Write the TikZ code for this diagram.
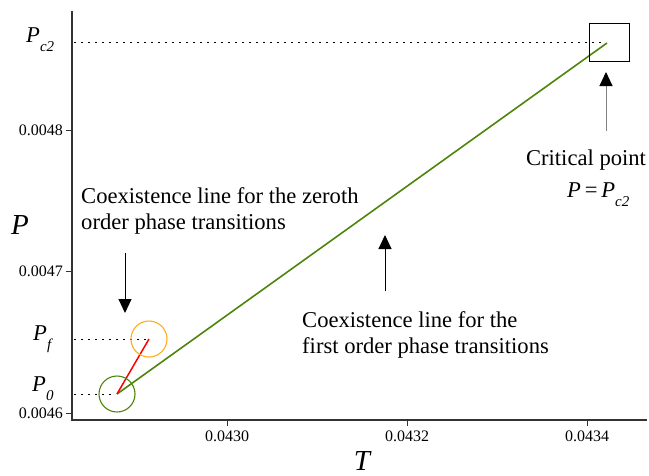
\documentclass[tikz,border=0pt]{standalone}
\usepackage{fontspec}
\setmainfont{Liberation Serif}
\usepackage{xcolor}
\usetikzlibrary{arrows.meta}
\definecolor{lineGreen}{RGB}{78,132,10}
\definecolor{ringOrange}{RGB}{255,172,30}

% italic P with a lowered italic subscript
\newcommand{\psub}[1]{\textit{P}\raisebox{-0.42em}{\fontsize{15}{15}\selectfont\textit{#1}}}

\begin{document}
\begin{tikzpicture}[x=1pt,y=-1pt,
  axis/.style={line width=1.2pt, black!80},
  tick/.style={line width=0.9pt, black!80},
  ticklabel/.style={font=\fontsize{16}{16}\selectfont, inner sep=0pt},
  guide/.style={line width=1pt, dash pattern=on 1.5pt off 5.5pt},
  note/.style={font=\fontsize{22.6}{26}\selectfont, inner sep=0pt, align=left},
  axislabel/.style={font=\fontsize{29}{29}\selectfont\itshape, inner sep=0pt},
  pointer/.style={line width=1pt, -{Triangle[width=13pt,length=14pt,color=black]}}]
\useasboundingbox (0,0) rectangle (649,475);

\coordinate (O) at (72,420);
\coordinate (P0) at (117,394);%start of the coexistence lines
\coordinate (Pf) at (149,339);
\coordinate (Pc) at (607,43);%critical point

%axes and ticks
\draw[axis] (72,11) -- (O) -- (647,420);
\foreach \y/\lab [count=\i] in {130/0.0048, 271/0.0047, 413/0.0046}{
  \draw[tick] (66,\y) -- (72,\y);
  \node[ticklabel, anchor=east] (ytick\i) at (63,\y) {\lab};
}
\foreach \x/\lab [count=\i] in {227/0.0430, 407/0.0432, 587/0.0434}{
  \draw[tick] (\x,420) -- (\x,426);
  \node[ticklabel, anchor=north] (xtick\i) at (\x,431) {\lab};
}
\node[axislabel] (ylab) at (20,225) {P};
\node[axislabel, anchor=base] (xlab) at (362,470) {T};

%guide lines to the pressure levels
\draw[guide] (74,42) -- (604,42);
\draw[guide] (74,339) -- (146,339);
\draw[guide] (74,394) -- (113,394);
\node[inner sep=0pt, anchor=base west, font=\fontsize{22.6}{26}\selectfont] (labc) at (26,42) {\psub{c2}};
\node[inner sep=0pt, anchor=base west, font=\fontsize{22.6}{26}\selectfont] (labf) at (33,340) {\psub{f}};
\node[inner sep=0pt, anchor=base west, font=\fontsize{22.6}{26}\selectfont] (lab0) at (32,391) {\psub{0}};

%coexistence lines
\draw[lineGreen, line width=1.6pt] (P0) -- (Pc);
\draw[red, line width=1.5pt] (P0) -- (Pf);

%markers
\draw[lineGreen, line width=1.1pt] (P0) circle[radius=18pt];
\draw[ringOrange, line width=1.1pt] (Pf) circle[radius=18pt];
\draw[line width=1pt] (589,23) rectangle (629,61);

%annotations
\node[note, anchor=west] (zeroth) at (81,211) {Coexistence line for the zeroth\\order phase transitions};
\node[note, anchor=west] (first) at (302,335) {Coexistence line for the\\first order phase transitions};
\node[note] (crit) at (586,160) {Critical point};
\node[inner sep=0pt, anchor=base west, font=\fontsize{22.6}{26}\selectfont] (critP) at (567,197) {\textit{P}\,=\,\psub{c2}};

\draw[pointer] (125,253) -- (125,313);
\draw[pointer] (385,291) -- (385,235);
\draw[pointer, gray] (606,131) -- (606,72);
\end{tikzpicture}
\end{document}
